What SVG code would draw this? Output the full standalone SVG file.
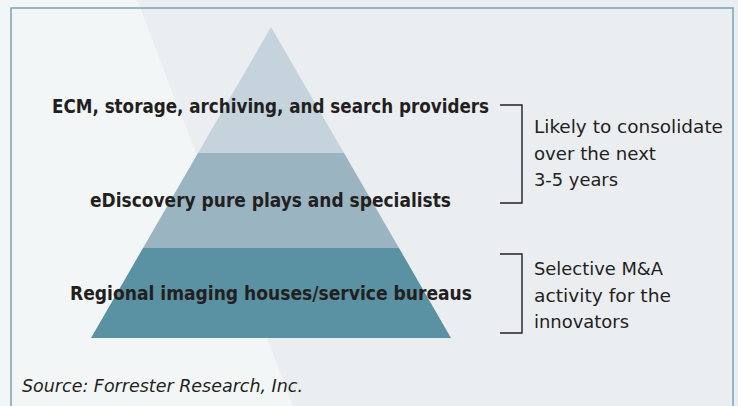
<svg xmlns="http://www.w3.org/2000/svg" width="738" height="406" viewBox="0 0 738 406">
<style>
.lbl{font-family:"DejaVu Sans Condensed","DejaVu Sans",sans-serif;font-weight:bold;font-size:20px;fill:#231f20}
.note{font-family:"DejaVu Sans Condensed","DejaVu Sans",sans-serif;font-size:18.5px;fill:#231f20}
.src{font-family:"DejaVu Sans Condensed","DejaVu Sans",sans-serif;font-style:italic;font-size:18.5px;fill:#231f20}
.br{fill:none;stroke:#231f20;stroke-width:1.4}
</style>
<rect x="0" y="0" width="738" height="406" fill="#ebeef1"/>
<polygon points="0,0 137,0 293,406 0,406" fill="#f3f6f7"/>
<rect x="11" y="8" width="722" height="420" fill="none" stroke="#7aa3b3" stroke-width="1.5"/>
<g id="tier-top">
<polygon points="271,27 344,153 198,153" fill="#c5d4dc"/>
</g>
<g id="tier-middle">
<polygon points="198,153 344,153 399,248 143,248" fill="#9ab5c1"/>
</g>
<g id="tier-bottom">
<polygon points="143,248 399,248 451,338 91,338" fill="#5a91a3"/>
</g>
<text class="lbl" x="52" y="113" textLength="437" lengthAdjust="spacingAndGlyphs">ECM, storage, archiving, and search providers</text>
<text class="lbl" x="90" y="207" textLength="361" lengthAdjust="spacingAndGlyphs">eDiscovery pure plays and specialists</text>
<text class="lbl" x="70" y="300" textLength="402" lengthAdjust="spacingAndGlyphs">Regional imaging houses/service bureaus</text>
<g id="connectors">
<polyline class="br" points="500,105 522,105 522,203 500,203"/>
<polyline class="br" points="500,254 522,254 522,333 500,333"/>
</g>
<g id="note-consolidate">
<text class="note" x="534" y="133" textLength="189" lengthAdjust="spacingAndGlyphs">Likely to consolidate</text>
<text class="note" x="534" y="160" textLength="122" lengthAdjust="spacingAndGlyphs">over the next</text>
<text class="note" x="534" y="186" textLength="84" lengthAdjust="spacingAndGlyphs">3-5 years</text>
</g>
<g id="note-selective">
<text class="note" x="534" y="275" textLength="129" lengthAdjust="spacingAndGlyphs">Selective M&amp;A</text>
<text class="note" x="534" y="302" textLength="137" lengthAdjust="spacingAndGlyphs">activity for the</text>
<text class="note" x="534" y="328" textLength="95" lengthAdjust="spacingAndGlyphs">innovators</text>
</g>
<text class="src" x="22" y="392" textLength="281" lengthAdjust="spacingAndGlyphs">Source: Forrester Research, Inc.</text>
</svg>
